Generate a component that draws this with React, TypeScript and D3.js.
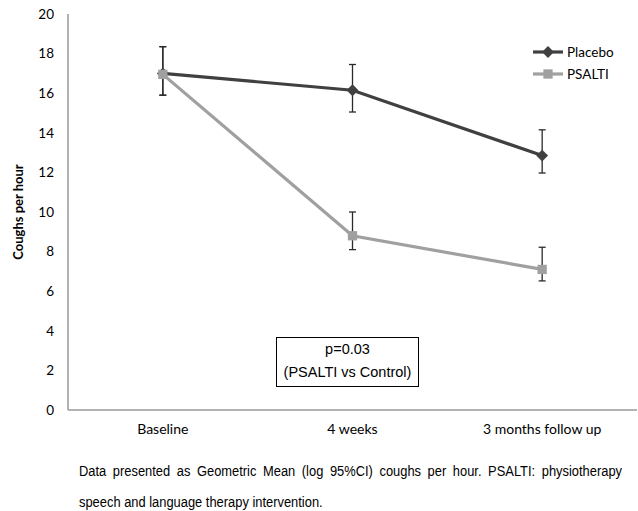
import React, { useEffect, useRef } from "react";
import * as d3 from "d3";

// Данные
const categories = ["Baseline", "4 weeks", "3 months follow up"];
const placeboMean = [17.0, 16.15, 12.85];
const placeboLow = [15.9, 15.05, 11.97];
const placeboHigh = [18.35, 17.45, 14.15];
const psaltiMean = [16.95, 8.8, 7.1];
const psaltiLow = [15.9, 8.1, 6.52];
const psaltiHigh = [18.35, 10.0, 8.22];
const yTicks = [0, 2, 4, 6, 8, 10, 12, 14, 16, 18, 20];
const seriesNames = ["Placebo", "PSALTI"];
const captionLines = [
	"Data presented as Geometric Mean (log 95%CI) coughs per hour. PSALTI: physiotherapy",
	"speech and language therapy intervention.",
];

const W = 638;
const H = 511;
const calibri = "Lato, 'Open Sans', sans-serif";
const arial = "'Liberation Sans', Arial, sans-serif";

export default function App() {
	const svgRef = useRef<SVGSVGElement | null>(null);

	useEffect(() => {
		if (!svgRef.current) return;
		const svg = d3.select(svgRef.current);
		svg.selectAll("*").remove();

		const margin = { top: 14, right: 1, bottom: 101, left: 68 };
		const innerW = W - margin.left - margin.right;
		const innerH = H - margin.top - margin.bottom;

		const x = d3.scaleBand<string>().domain(categories).range([0, innerW]);
		const y = d3.scaleLinear().domain([0, 20]).range([innerH, 0]);
		const cx = (c: string) => (x(c) || 0) + x.bandwidth() / 2;

		const g = svg.append("g").attr("transform", `translate(${margin.left},${margin.top})`);

		// оси
		g.append("line")
			.attr("x1", 0).attr("x2", 0).attr("y1", 0).attr("y2", innerH)
			.attr("stroke", "#9a9a9a").attr("stroke-width", 1.5);
		g.append("line")
			.attr("x1", 0).attr("x2", innerW).attr("y1", innerH).attr("y2", innerH)
			.attr("stroke", "#9a9a9a").attr("stroke-width", 1.5);

		g.selectAll(".ytick")
			.data(yTicks)
			.enter()
			.append("text")
			.attr("x", -14)
			.attr("y", (d) => y(d))
			.attr("dy", "0.35em")
			.attr("text-anchor", "end")
			.attr("font-family", calibri)
			.attr("font-size", 13.5)
			.attr("fill", "#000")
			.text((d) => d);

		g.selectAll(".xlab")
			.data(categories)
			.enter()
			.append("text")
			.attr("x", (d) => cx(d))
			.attr("y", innerH + 24)
			.attr("text-anchor", "middle")
			.attr("font-family", calibri)
			.attr("font-size", 14)
			.attr("fill", "#000")
			.text((d) => d);

		svg.append("text")
			.attr("transform", `translate(23,${margin.top + innerH / 2}) rotate(-90)`)
			.attr("text-anchor", "middle")
			.attr("font-family", calibri)
			.attr("font-size", 13)
			.attr("font-weight", "bold")
			.text("Coughs per hour");

		const series = [
			{ name: seriesNames[0], mean: placeboMean, low: placeboLow, high: placeboHigh, color: "#404040", symbol: d3.symbolDiamond2, size: 90 },
			{ name: seriesNames[1], mean: psaltiMean, low: psaltiLow, high: psaltiHigh, color: "#a0a0a0", symbol: d3.symbolSquare2, size: 110 },
		];

		const line = d3
			.line<number>()
			.x((_, i) => cx(categories[i]))
			.y((d) => y(d));

		series.forEach((s) => {
			g.append("path")
				.attr("d", line(s.mean))
				.attr("fill", "none")
				.attr("stroke", s.color)
				.attr("stroke-width", 3.2);
		});

		// планки погрешностей
		series.forEach((s) => {
			const eb = g.append("g").attr("stroke", "#2a2a2a").attr("stroke-width", 1.3);
			categories.forEach((c, i) => {
				const px = cx(c);
				eb.append("line").attr("x1", px).attr("x2", px).attr("y1", y(s.low[i])).attr("y2", y(s.high[i]));
				eb.append("line").attr("x1", px - 3.5).attr("x2", px + 3.5).attr("y1", y(s.low[i])).attr("y2", y(s.low[i]));
				eb.append("line").attr("x1", px - 3.5).attr("x2", px + 3.5).attr("y1", y(s.high[i])).attr("y2", y(s.high[i]));
			});
		});

		series.forEach((s) => {
			g.selectAll(null)
				.data(s.mean)
				.enter()
				.append("path")
				.attr("d", d3.symbol().type(s.symbol).size(s.size)())
				.attr("transform", (d, i) => `translate(${cx(categories[i])},${y(d)})`)
				.attr("fill", s.color);
		});

		// легенда
		const leg = svg.append("g").attr("transform", "translate(533,52)");
		series.forEach((s, i) => {
			const row = leg.append("g").attr("transform", `translate(0,${i * 22})`);
			row.append("line").attr("x1", 0).attr("x2", 30).attr("stroke", s.color).attr("stroke-width", 3.2);
			row.append("path")
				.attr("d", d3.symbol().type(s.symbol).size(s.size)())
				.attr("transform", "translate(15,0)")
				.attr("fill", s.color);
			row.append("text")
				.attr("x", 34)
				.attr("dy", "0.35em")
				.attr("font-family", calibri)
				.attr("font-size", 13.5)
				.text(s.name);
		});

		// аннотация
		const box = svg.append("g");
		box.append("rect")
			.attr("x", 276.5).attr("y", 337.5).attr("width", 142).attr("height", 49)
			.attr("fill", "#fff").attr("stroke", "#000").attr("stroke-width", 1);
		box.append("text")
			.attr("x", 347.5).attr("y", 354)
			.attr("text-anchor", "middle").attr("font-family", arial).attr("font-size", 14.5)
			.text("p=0.03");
		box.append("text")
			.attr("x", 347.5).attr("y", 377)
			.attr("text-anchor", "middle").attr("font-family", arial).attr("font-size", 14.5)
			.text("(PSALTI vs Control)");

		// подпись: текст чуть вытянут по вертикали, первая строка по ширине
		const capLeft = 79;
		const capRight = 622;
		const capSize = 12.9;
		const line1 = svg.append("g").attr("transform", "translate(0,476) scale(1,1.15)");
		const words = captionLines[0].split(" ");
		const wordNodes = words.map((w) =>
			line1.append("text").attr("y", 0).attr("font-family", arial).attr("font-size", capSize).text(w)
		);
		const widths = wordNodes.map((n) => (n.node() as SVGTextElement).getComputedTextLength());
		const gap = (capRight - capLeft - d3.sum(widths)) / (words.length - 1);
		let pos = capLeft;
		wordNodes.forEach((n, i) => {
			n.attr("x", pos);
			pos += widths[i] + gap;
		});
		svg.append("g")
			.attr("transform", "translate(0,507) scale(1,1.15)")
			.append("text")
			.attr("x", capLeft).attr("y", 0)
			.attr("font-family", arial).attr("font-size", capSize)
			.text(captionLines[1]);
	}, []);

	return (
		<svg
			ref={svgRef}
			width={W}
			height={H}
			style={{ position: "absolute", left: 0, top: 0, background: "#fff" }}
		></svg>
	);
}
